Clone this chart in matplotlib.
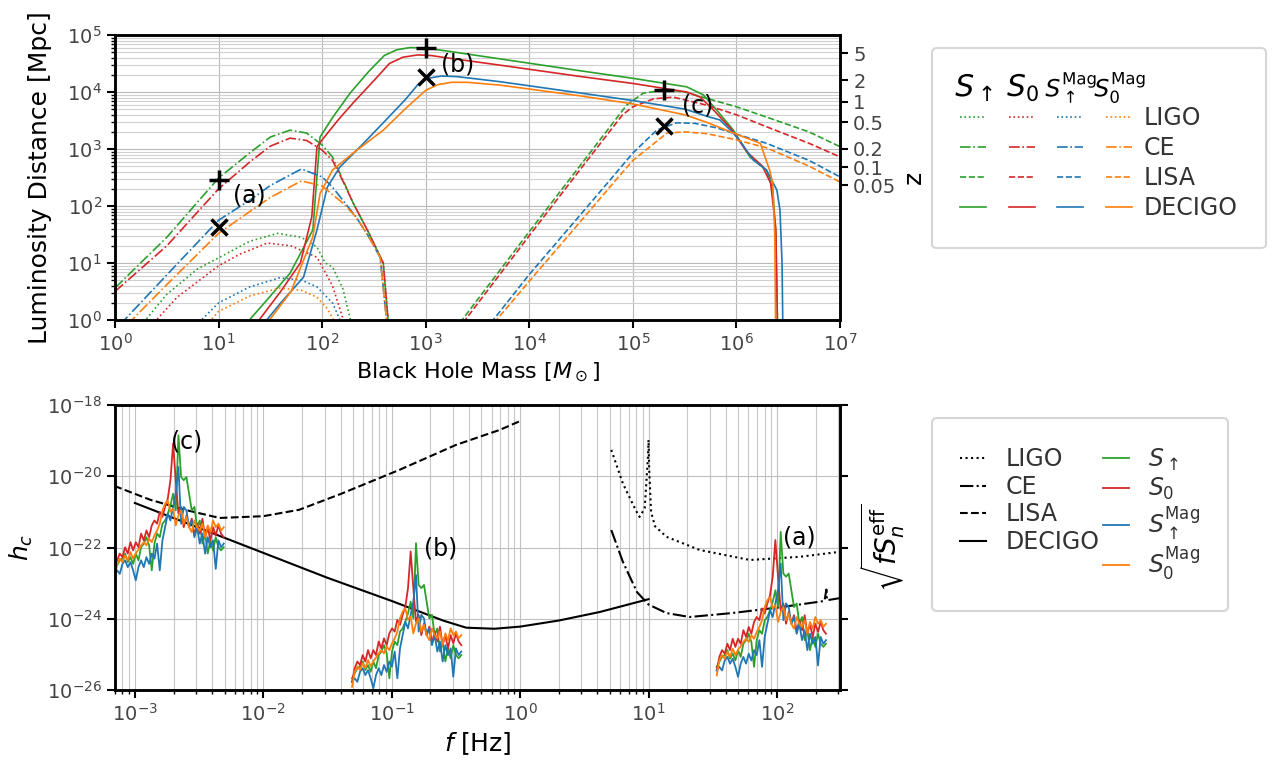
import numpy as np
import matplotlib
matplotlib.use("Agg")
from matplotlib import pyplot as plt
from matplotlib.lines import Line2D
from matplotlib.ticker import NullLocator, NullFormatter, FixedLocator, FixedFormatter

#Font
SMALL_SIZE = 14
MEDIUM_SIZE = 16
BIG_SIZE = 18
TICK_COL = "#444444"

# colours of the four spin models  S_up, S_0, S_up^Mag, S_0^Mag
c_up, c_0, c_upmag, c_0mag = "#2ca02c", "#d62728", "#1f77b4", "#ff7f0e"

# ---------- top panel : horizon distance vs black hole mass (log10 values) ----------
# LIGO (dotted)
ligo_up_logM = [0.25, 0.5, 0.8, 1.0, 1.3, 1.57, 1.8, 1.95, 2.03, 2.1, 2.2, 2.3]
ligo_up_logD = [-0.1, 0.45, 0.9, 1.09, 1.38, 1.52, 1.45, 1.28, 1.0, 0.93, 0.55, -0.2]
ligo_0_logM = [0.35, 0.6, 1.0, 1.2, 1.47, 1.7, 1.95, 2.1, 2.24]
ligo_0_logD = [-0.1, 0.4, 0.95, 1.15, 1.35, 1.3, 1.1, 0.6, -0.2]
ligo_upmag_logM = [0.78, 1.0, 1.3, 1.59, 1.8, 1.95, 2.1, 2.22]
ligo_upmag_logD = [-0.1, 0.3, 0.58, 0.74, 0.7, 0.58, 0.3, -0.2]
ligo_0mag_logM = [0.88, 1.0, 1.3, 1.59, 1.8, 1.95, 2.05, 2.17]
ligo_0mag_logD = [-0.1, 0.15, 0.42, 0.56, 0.52, 0.4, 0.2, -0.2]

# CE (dash-dot)
ce_up_logM = [0.0, 0.5, 1.0, 1.3, 1.5, 1.69, 1.85, 2.0, 2.1, 2.2, 2.3, 2.45, 2.59, 2.66]
ce_up_logD = [0.56, 1.45, 2.49, 2.93, 3.21, 3.33, 3.28, 3.07, 2.86, 2.46, 2.05, 1.53, 1.0, -0.5]
ce_0_logM = [0.0, 0.5, 1.0, 1.3, 1.5, 1.69, 1.85, 2.0, 2.1, 2.2, 2.3, 2.45, 2.59, 2.66]
ce_0_logD = [0.50, 1.30, 2.30, 2.77, 3.05, 3.19, 3.15, 2.98, 2.80, 2.44, 2.05, 1.53, 1.0, -0.5]
ce_upmag_logM = [0.05, 0.5, 1.0, 1.3, 1.5, 1.80, 2.0, 2.1, 2.2, 2.33, 2.45, 2.56, 2.65]
ce_upmag_logD = [-0.08, 0.79, 1.75, 2.1, 2.36, 2.65, 2.51, 2.33, 2.1, 1.8, 1.46, 1.1, -0.5]
ce_0mag_logM = [0.12, 0.5, 1.0, 1.3, 1.5, 1.80, 2.0, 2.1, 2.2, 2.33, 2.45, 2.56, 2.65]
ce_0mag_logD = [-0.08, 0.62, 1.52, 1.9, 2.15, 2.44, 2.35, 2.2, 2.05, 1.8, 1.46, 1.1, -0.5]

# LISA (dashed)
lisa_up_logM = [3.33, 4.0, 4.5, 4.94, 5.10, 5.33, 5.5, 5.71, 6.0, 6.29, 6.7, 7.0]
lisa_up_logD = [-0.05, 1.55, 2.73, 3.77, 3.98, 4.04, 4.0, 3.89, 3.74, 3.56, 3.3, 3.04]
lisa_0_logM = [3.36, 4.0, 4.5, 4.9, 5.0, 5.2, 5.39, 5.71, 6.0, 6.29, 6.7, 7.0]
lisa_0_logD = [-0.05, 1.48, 2.66, 3.6, 3.74, 3.88, 3.91, 3.77, 3.6, 3.39, 3.1, 2.86]
lisa_upmag_logM = [3.63, 4.0, 4.5, 4.8, 5.0, 5.23, 5.42, 5.6, 5.81, 6.0, 6.29, 6.7, 7.0]
lisa_upmag_logD = [-0.05, 0.8, 1.86, 2.5, 2.93, 3.33, 3.46, 3.45, 3.37, 3.26, 3.1, 2.8, 2.51]
lisa_0mag_logM = [3.66, 4.0, 4.5, 4.8, 5.0, 5.33, 5.5, 5.71, 6.0, 6.29, 6.7, 7.0]
lisa_0mag_logD = [-0.05, 0.68, 1.74, 2.38, 2.80, 3.28, 3.3, 3.27, 3.16, 3.02, 2.7, 2.42]

# DECIGO (solid)
dec_up_logM = [1.25, 1.5, 1.69, 1.91, 1.96, 1.98, 2.1, 2.27, 2.45, 2.6, 2.72, 2.85, 3.0, 3.2, 3.72,
               4.5, 5.0, 5.52, 5.68, 5.81, 5.97, 6.13, 6.29, 6.35, 6.38, 6.40]
dec_up_logD = [-0.1, 0.42, 0.82, 1.58, 2.75, 3.21, 3.55, 3.98, 4.36, 4.64, 4.74, 4.78, 4.77, 4.72, 4.58,
               4.37, 4.24, 4.09, 3.95, 3.68, 3.33, 2.86, 2.63, 2.3, 1.5, -0.5]
dec_0_logM = [1.35, 1.6, 1.79, 1.90, 1.95, 2.0, 2.15, 2.30, 2.5, 2.65, 2.78, 2.92, 3.05, 3.2, 3.72,
              4.5, 5.0, 5.52, 5.65, 5.78, 5.95, 6.1, 6.25, 6.33, 6.38, 6.40]
dec_0_logD = [-0.1, 0.5, 1.0, 1.81, 3.04, 3.16, 3.5, 3.81, 4.2, 4.5, 4.61, 4.65, 4.64, 4.6, 4.47,
              4.27, 4.15, 4.0, 3.91, 3.68, 3.35, 2.95, 2.7, 2.4, 1.6, -0.5]
dec_upmag_logM = [1.42, 1.6, 1.82, 1.95, 2.05, 2.17, 2.4, 2.59, 2.8, 2.92, 3.02, 3.15, 3.3, 3.72,
                  4.5, 5.0, 5.5, 5.74, 5.84, 5.97, 6.05, 6.16, 6.29, 6.39, 6.42, 6.44, 6.45]
dec_upmag_logD = [-0.1, 0.3, 0.75, 1.58, 2.33, 2.68, 3.1, 3.46, 3.86, 4.12, 4.24, 4.28, 4.27, 4.18,
                  3.98, 3.85, 3.7, 3.56, 3.51, 3.28, 3.1, 2.81, 2.63, 2.28, 1.93, 1.0, -0.5]
dec_0mag_logM = [1.45, 1.7, 1.91, 1.98, 2.1, 2.3, 2.59, 2.8, 3.0, 3.12, 3.25, 3.4, 3.72, 4.5, 5.0, 5.5,
                 5.71, 5.97, 6.23, 6.32, 6.35, 6.37, 6.38]
dec_0mag_logD = [-0.1, 0.5, 1.46, 2.22, 2.63, 2.93, 3.33, 3.7, 4.03, 4.13, 4.17, 4.17, 4.12, 3.93, 3.79, 3.6,
                 3.47, 3.28, 3.1, 2.63, 2.4, 1.5, -0.5]

# the three example systems (a), (b), (c)
ex_mass = [10, 1000, 2e5]
ex_D_plus = [290, 5.9e4, 1.08e4]
ex_D_cross = [43, 1.8e4, 2.5e3]
ex_labels = ["(a)", "(b)", "(c)"]
ex_label_M = [20, 2050, 4.2e5]
ex_label_D = [150, 3.0e4, 5.7e3]

# redshift ticks on the right axis
z_ticks = [5, 2, 1, 0.5, 0.2, 0.1, 0.05]
z_tick_labels = ["5", "2", "1", "0.5", "0.2", "0.1", "0.05"]

# ---------- bottom panel : characteristic strain ----------
lisa_logf = [-3.16, -2.88, -2.6, -2.34, -2.0, -1.72, -1.4, -0.94, -0.5, -0.16, 0.0]
lisa_logh = [-20.27, -20.66, -20.95, -21.17, -21.12, -20.94, -20.5, -19.82, -19.12, -18.70, -18.45]
decigo_logf = [-3.0, -2.5, -2.0, -1.5, -1.0, -0.6, -0.42, -0.2, 0.0, 0.3, 0.62, 1.0]
decigo_logh = [-20.75, -21.45, -22.15, -22.85, -23.5, -24.05, -24.25, -24.28, -24.22, -24.05, -23.81, -23.45]
ligo_logf = [0.71, 0.80, 0.90, 0.93, 0.97, 0.995, 1.0, 1.005, 1.02, 1.05, 1.14, 1.4, 1.79, 2.18, 2.49]
ligo_logh = [-19.26, -20.2, -20.95, -21.14, -20.9, -19.5, -18.98, -19.8, -21.0, -21.4, -21.70,
             -22.07, -22.35, -22.26, -22.12]
ce_logf = [0.71, 0.8, 0.91, 1.0, 1.14, 1.32, 1.65, 2.04, 2.37, 2.385, 2.39, 2.49]
ce_logh = [-21.51, -22.4, -23.25, -23.6, -23.84, -23.95, -23.84, -23.67, -23.5, -23.18, -23.48, -23.42]

# signal spectra of system (b); (a) and (c) are the same spectra rescaled with mass
sig_logf = np.linspace(-1.309, -0.458, 42)
sig_up = [-25.67, -25.53, -25.39, -25.34, -25.20, -25.44, -25.30, -25.49, -25.20, -25.39,
          -25.02, -24.92, -24.74, -24.97, -25.67, -24.92, -24.64, -24.74, -24.36, -24.27,
          -24.08, -23.85, -23.52, -23.99, -21.88, -23.05, -23.14, -23.05, -23.52, -23.99,
          -23.89, -24.46, -24.27, -24.92, -24.64, -25.20, -24.83, -25.11, -24.74, -25.02,
          -25.11, -25.02]
sig_0 = [-25.77, -25.39, -25.20, -25.30, -25.02, -25.20, -24.88, -25.11, -24.88, -25.02,
         -24.64, -24.83, -24.55, -24.74, -24.41, -24.27, -24.36, -24.03, -24.17, -23.89,
         -23.66, -23.14, -22.11, -23.14, -24.08, -23.89, -24.46, -24.13, -24.46, -24.22,
         -24.69, -24.36, -24.64, -24.22, -24.74, -24.46, -24.83, -24.46, -24.69, -24.41,
         -24.64, -24.74]
sig_upmag = [-25.77, -25.67, -25.77, -25.49, -25.39, -25.58, -25.44, -25.67, -25.95, -25.58,
             -25.39, -25.58, -25.30, -25.49, -25.20, -25.34, -24.92, -25.67, -24.83, -24.46,
             -24.08, -24.27, -23.89, -23.52, -22.77, -24.36, -23.89, -23.99, -24.46, -24.27,
             -24.74, -24.46, -24.92, -24.64, -25.20, -24.74, -25.02, -24.83, -25.63, -24.83,
             -25.02, -24.92]
sig_0mag = [-25.91, -25.49, -25.34, -25.44, -25.25, -25.39, -25.16, -25.34, -25.19, -25.09,
            -24.97, -24.88, -24.97, -24.78, -24.88, -24.69, -24.55, -24.36, -23.99, -23.80,
            -23.71, -24.03, -23.94, -24.41, -24.13, -23.99, -24.36, -24.17, -24.46, -24.60,
            -24.27, -24.46, -24.55, -24.36, -24.74, -24.41, -24.60, -24.27, -24.46, -24.36,
            -24.55, -24.46]
event_dlogf = [2.84, 0.0, -1.85]   # (a), (b), (c)
event_dlogh = [0.32, 0.0, 3.03]
event_label_f = [150, 0.24, 2.54e-3]
event_label_h = [1.86e-22, 9.1e-23, 9.3e-20]


def lum_dist(z, H0=67.7, Om=0.31):
    zz = np.linspace(0, z, 2000)
    Ez = np.sqrt(Om * (1 + zz) ** 3 + 1 - Om)
    return (1 + z) * 299792.458 / H0 * np.trapezoid(1 / Ez, zz)


plt.rc('font', size=SMALL_SIZE)
plt.rc('axes', labelsize=BIG_SIZE, linewidth=1.8)
plt.rc('xtick', labelsize=SMALL_SIZE, color="k", labelcolor=TICK_COL)
plt.rc('ytick', labelsize=SMALL_SIZE, color="k", labelcolor=TICK_COL)
plt.rc('legend', fontsize=17)

fig = plt.figure(figsize=(12.79, 7.69), dpi=100)
ax1 = fig.add_axes([0.0899, 0.5839, 0.5669, 0.3706])
ax2 = fig.add_axes([0.0899, 0.1027, 0.5669, 0.3706])

colors = [c_up, c_0, c_upmag, c_0mag]
det_styles = [":", "-.", "--", "-"]
curves = [
    [(ligo_up_logM, ligo_up_logD), (ce_up_logM, ce_up_logD), (lisa_up_logM, lisa_up_logD), (dec_up_logM, dec_up_logD)],
    [(ligo_0_logM, ligo_0_logD), (ce_0_logM, ce_0_logD), (lisa_0_logM, lisa_0_logD), (dec_0_logM, dec_0_logD)],
    [(ligo_upmag_logM, ligo_upmag_logD), (ce_upmag_logM, ce_upmag_logD), (lisa_upmag_logM, lisa_upmag_logD), (dec_upmag_logM, dec_upmag_logD)],
    [(ligo_0mag_logM, ligo_0mag_logD), (ce_0mag_logM, ce_0mag_logD), (lisa_0mag_logM, lisa_0mag_logD), (dec_0mag_logM, dec_0mag_logD)],
]
for col, group in zip(colors, curves):
    for ls, (lm, ld) in zip(det_styles, group):
        ax1.plot(10 ** np.array(lm), 10 ** np.array(ld), color=col, ls=ls, lw=1.2)

ax1.plot(ex_mass, ex_D_plus, "k+", ms=15, mew=2.5, ls="none")
ax1.plot(ex_mass, ex_D_cross, "kx", ms=12, mew=2.5, ls="none")
for m, d, lab in zip(ex_label_M, ex_label_D, ex_labels):
    ax1.text(m, d, lab, fontsize=17, ha="center", va="center")

ax1.set_xscale("log")
ax1.set_yscale("log")
ax1.set_xlim(1, 1e7)
ax1.set_ylim(1, 1e5)
ax1.xaxis.set_minor_locator(NullLocator())
ax1.yaxis.set_minor_formatter(NullFormatter())
ax1.grid(True, which="major", color="#b8b8b8", lw=0.8)
ax1.grid(True, which="minor", axis="y", color="#d0d0d0", lw=0.8)
ax1.tick_params(which="major", length=6, width=1.5)
ax1.tick_params(which="minor", length=3, width=1.0)
ax1.set_xlabel(r"Black Hole Mass [$M_\odot$]", fontsize=MEDIUM_SIZE)
ax1.set_ylabel("Luminosity Distance [Mpc]")
ax1.yaxis.set_label_coords(-0.087, 0.5)

axz = ax1.twinx()
axz.set_yscale("log")
axz.set_ylim(1, 1e5)
axz.yaxis.set_major_locator(FixedLocator([lum_dist(z) for z in z_ticks]))
axz.yaxis.set_major_formatter(FixedFormatter(z_tick_labels))
axz.yaxis.set_minor_locator(NullLocator())
axz.tick_params(length=6, width=1.5)
axz.set_ylabel("z")

# top legend : one column per spin model, rows are detectors
headers = [r"$S_\uparrow$", r"$S_0$", r"$S_\uparrow^{\rm Mag}$", r"$S_0^{\rm Mag}$"]
header_ms = [26, 22, 36, 36]
det_names = ["LIGO", "CE", "LISA", "DECIGO"]
handles, labels = [], []
for i, (col, tex, ms) in enumerate(zip(colors, headers, header_ms)):
    handles.append(Line2D([], [], ls="none", marker=tex, ms=ms, color="k", mew=0))
    labels.append("")
    for ls, name in zip(det_styles, det_names):
        handles.append(Line2D([], [], color=col, ls=ls, lw=1.2))
        labels.append(name if i == 3 else "")
leg1 = fig.legend(handles, labels, ncol=4, loc="upper left", bbox_to_anchor=(0.7287, 0.9376),
                  handlelength=1.1, handletextpad=0.5, columnspacing=0.45, labelspacing=0.25,
                  borderpad=1.2, borderaxespad=0, labelcolor="#333333")
leg1.get_frame().set_linewidth(1.5)

# ---------- bottom panel ----------
ax2.plot(10 ** np.array(ligo_logf), 10 ** np.array(ligo_logh), "k:", lw=1.5, label="LIGO")
ax2.plot(10 ** np.array(ce_logf), 10 ** np.array(ce_logh), "k-.", lw=1.5, label="CE")
ax2.plot(10 ** np.array(lisa_logf), 10 ** np.array(lisa_logh), "k--", lw=1.5, label="LISA")
ax2.plot(10 ** np.array(decigo_logf), 10 ** np.array(decigo_logh), "k-", lw=1.5, label="DECIGO")

spectra = [sig_up, sig_0, sig_upmag, sig_0mag]
for k, (dlf, dlh) in enumerate(zip(event_dlogf, event_dlogh)):
    for col, lab, sp in zip(colors, headers, spectra):
        ax2.plot(10 ** (sig_logf + dlf), 10 ** (np.array(sp) + dlh), color=col, lw=1.3,
                 label=lab if k == 0 else None)
for f, h, lab in zip(event_label_f, event_label_h, ex_labels):
    ax2.text(f, h, lab, fontsize=17, ha="center", va="center")

ax2.set_xscale("log")
ax2.set_yscale("log")
ax2.set_xlim(7e-4, 310)
ax2.set_ylim(1e-26, 1e-18)
ax2.set_yticks([1e-26, 1e-24, 1e-22, 1e-20, 1e-18])
ax2.yaxis.set_minor_locator(NullLocator())
ax2.xaxis.set_minor_formatter(NullFormatter())
ax2.grid(True, which="major", color="#c0c0c0", lw=0.8)
ax2.grid(True, which="minor", axis="x", color="#c8c8c8", lw=0.8)
ax2.tick_params(which="major", length=6, width=1.5)
ax2.tick_params(which="minor", length=3, width=1.0)
ax2.set_xlabel(r"$f$ [Hz]")
ax2.set_ylabel(r"$h_c$")
ax2.yaxis.set_label_coords(-0.11, 0.5)

axs = ax2.twinx()
axs.set_yscale("log")
axs.set_ylim(1e-26, 1e-18)
axs.set_yticks([1e-26, 1e-24, 1e-22, 1e-20, 1e-18])
axs.yaxis.set_minor_locator(NullLocator())
axs.yaxis.set_major_formatter(NullFormatter())
axs.tick_params(length=6, width=1.5)
axs.set_ylabel(r"$\sqrt{f S_n^{\rm eff}}$", fontsize=20)

h2, l2 = ax2.get_legend_handles_labels()
leg2 = fig.legend(h2, l2, ncol=2, loc="upper left", bbox_to_anchor=(0.7287, 0.4564),
                  handlelength=1.1, handletextpad=0.8, columnspacing=0.15, labelspacing=0.15,
                  borderpad=1.2, borderaxespad=0, labelcolor="#333333")
leg2.get_frame().set_linewidth(1.5)

fig.savefig("out.png", dpi=100)
